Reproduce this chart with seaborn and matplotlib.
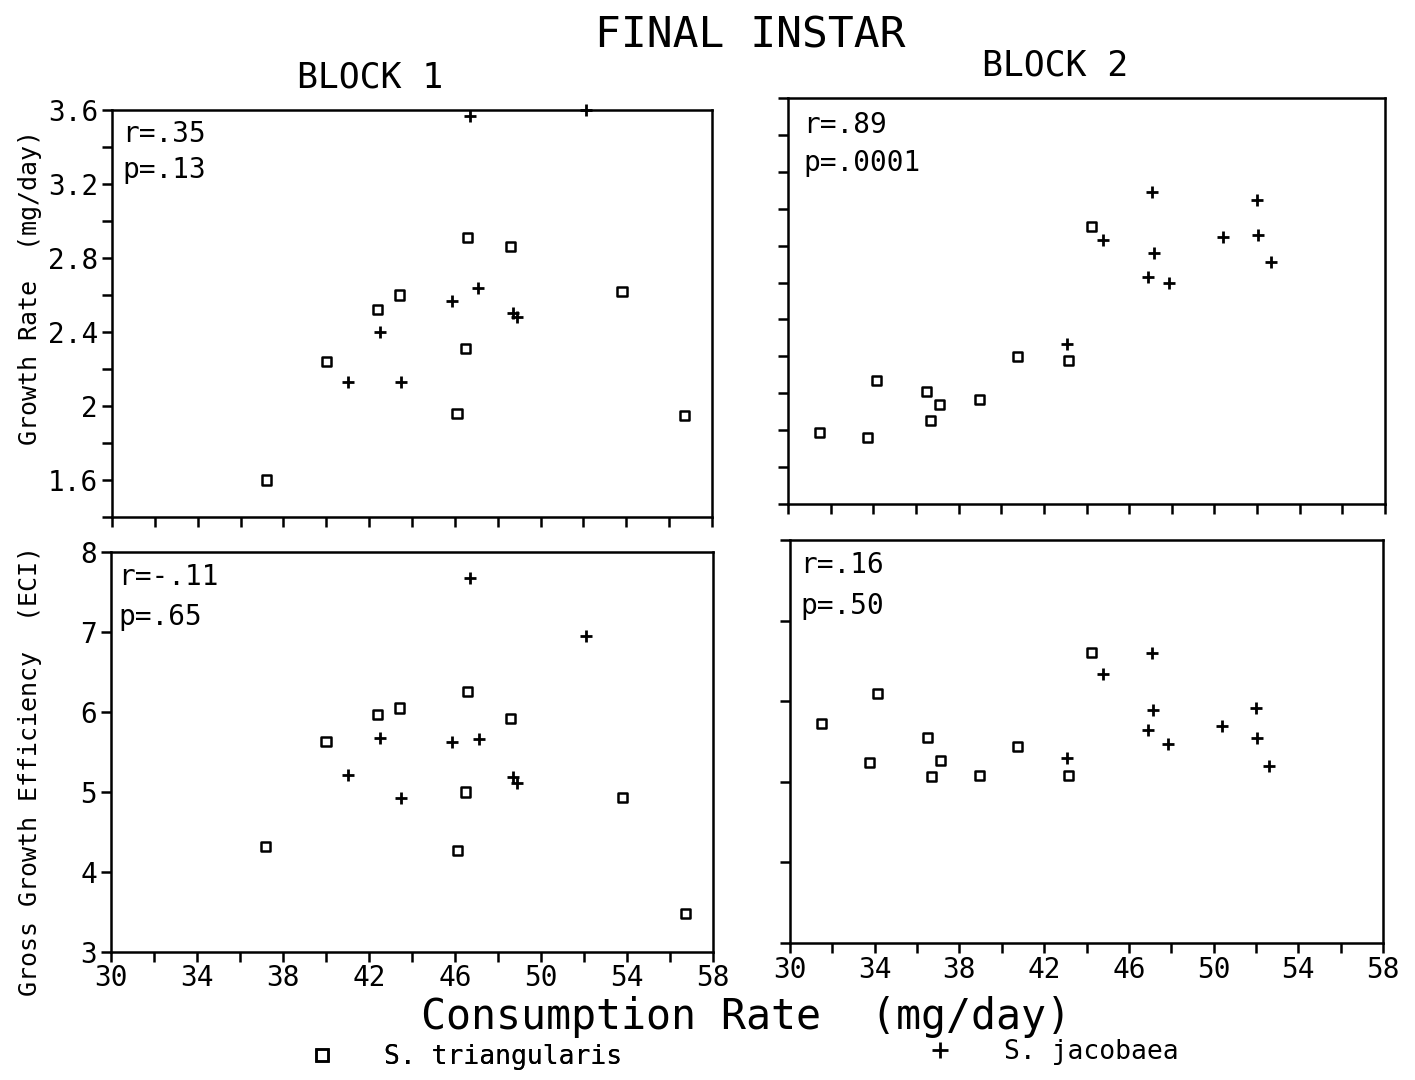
import numpy as np
import pandas as pd
import matplotlib
matplotlib.use("Agg")
import matplotlib.pyplot as plt
from matplotlib.lines import Line2D
import seaborn as sns

# ---------------- data ----------------
# Block 1, S. triangularis (squares)
b1_tri_cr = [37.2, 40.0, 42.4, 43.4, 46.6, 48.6, 53.8, 46.5, 46.1, 56.7]
b1_tri_gr = [1.60, 2.24, 2.52, 2.60, 2.91, 2.86, 2.62, 2.31, 1.96, 1.95]
b1_tri_eci = [4.32, 5.63, 5.97, 6.05, 6.26, 5.92, 4.93, 5.00, 4.27, 3.48]
# Block 1, S. jacobaea (plus)
b1_jac_cr = [46.7, 52.1, 47.1, 45.85, 48.7, 48.9, 42.5, 41.0, 43.5]
b1_jac_gr = [3.57, 3.60, 2.64, 2.57, 2.50, 2.48, 2.40, 2.13, 2.13]
b1_jac_eci = [7.67, 6.95, 5.66, 5.63, 5.19, 5.11, 5.67, 5.21, 4.92]
# Block 2, S. triangularis
b2_tri_cr = [31.5, 33.75, 34.15, 36.5, 37.1, 36.7, 38.97, 40.76, 43.15, 44.22]
b2_tri_gr = [1.79, 1.76, 2.07, 2.01, 1.94, 1.85, 1.965, 2.20, 2.18, 2.905]
b2_tri_eci = [5.72, 5.24, 6.09, 5.55, 5.26, 5.07, 5.08, 5.44, 5.08, 6.60]
# Block 2, S. jacobaea
b2_jac_cr = [47.07, 51.98, 44.78, 50.38, 52.04, 47.16, 46.9, 47.85, 52.63, 43.1]
b2_jac_gr = [3.09, 3.05, 2.83, 2.845, 2.86, 2.76, 2.63, 2.60, 2.71, 2.265]
b2_jac_eci = [6.60, 5.91, 6.34, 5.69, 5.54, 5.89, 5.645, 5.47, 5.19, 5.30]

stats_text = [["r=.35", "p=.13"], ["r=.89", "p=.0001"],
              ["r=-.11", "p=.65"], ["r=.16", "p=.50"]]

x_ticks = list(range(30, 59, 2))
x_ticklabels = [str(v) if (v - 30) % 4 == 0 else "" for v in x_ticks]
gr_ticks = [1.4, 1.6, 1.8, 2.0, 2.2, 2.4, 2.6, 2.8, 3.0, 3.2, 3.4, 3.6]
gr_ticklabels = ["", "1.6", "", "2", "", "2.4", "", "2.8", "", "3.2", "", "3.6"]
eci_ticks = [3, 4, 5, 6, 7, 8]
eci_ticklabels = ["3", "4", "5", "6", "7", "8"]

# ---------------- style ----------------
sns.set_theme(style="ticks")
plt.rcParams["font.family"] = ["DejaVu Sans Mono", "DejaVu Sans"]
plt.rcParams["axes.linewidth"] = 1.6
plt.rcParams["axes.edgecolor"] = "black"
plt.rcParams["text.color"] = "black"
plt.rcParams["axes.labelcolor"] = "black"
plt.rcParams["xtick.color"] = "black"
plt.rcParams["ytick.color"] = "black"

fig = plt.figure(figsize=(14.15, 10.8), dpi=100)
W, H = 1415, 1080

def rect(l, r, t, b):
    return [l / W, 1 - b / H, (r - l) / W, (b - t) / H]

ax_tl = fig.add_axes(rect(112, 712, 110, 517))
ax_tr = fig.add_axes(rect(788, 1385, 98, 504))
ax_bl = fig.add_axes(rect(111, 713, 552, 952))
ax_br = fig.add_axes(rect(790, 1383, 540, 943))

panels = [
    (ax_tl, b1_tri_cr, b1_tri_gr, b1_jac_cr, b1_jac_gr, "gr", (0.017, 0.94, 0.853)),
    (ax_tr, b2_tri_cr, b2_tri_gr, b2_jac_cr, b2_jac_gr, "gr", (0.025, 0.933, 0.84)),
    (ax_bl, b1_tri_cr, b1_tri_eci, b1_jac_cr, b1_jac_eci, "eci", (0.012, 0.9375, 0.8375)),
    (ax_br, b2_tri_cr, b2_tri_eci, b2_jac_cr, b2_jac_eci, "eci", (0.017, 0.938, 0.836)),
]

for i, (ax, tx, ty, jx, jy, kind, pos) in enumerate(panels):
    df_t = pd.DataFrame({"cr": tx, "val": ty})
    df_j = pd.DataFrame({"cr": jx, "val": jy})
    sns.scatterplot(data=df_t, x="cr", y="val", marker="s", s=42,
                    facecolor="none", edgecolor="black", linewidth=1.8,
                    color="black", ax=ax, zorder=3, clip_on=False)
    sns.scatterplot(data=df_j, x="cr", y="val", marker="+", s=70,
                    linewidth=2.0, color="black", ax=ax, zorder=3, clip_on=False)
    ax.set_xlabel("")
    ax.set_ylabel("")
    ax.set_xlim(30, 58)
    ax.set_xticks(x_ticks)
    ax.set_xticklabels(x_ticklabels)
    if kind == "gr":
        ax.set_ylim(1.4, 3.6)
        ax.set_yticks(gr_ticks)
        ax.set_yticklabels(gr_ticklabels)
    else:
        ax.set_ylim(3, 8)
        ax.set_yticks(eci_ticks)
        ax.set_yticklabels(eci_ticklabels)
    ax.tick_params(direction="out", length=7, width=1.8, color="black",
                   labelsize=20, labelcolor="black", pad=2)
    ax.tick_params(axis="y", pad=3)
    if i in (0, 1):
        ax.tick_params(labelbottom=False)
    if i in (1, 3):
        ax.tick_params(labelleft=False)
    for sp in ax.spines.values():
        sp.set_visible(True)
        sp.set_linewidth(1.8)
        sp.set_color("black")
    ax.set_facecolor("white")
    ax.text(pos[0], pos[1], stats_text[i][0], transform=ax.transAxes,
            fontsize=20, va="center", ha="left", color="black")
    ax.text(pos[0], pos[2], stats_text[i][1], transform=ax.transAxes,
            fontsize=20, va="center", ha="left", color="black")

# ---------------- figure texts ----------------
fig.text(750 / W, 1 - 35 / H, "FINAL INSTAR", fontsize=31, ha="center", va="center")
fig.text(370 / W, 1 - 77 / H, "BLOCK 1", fontsize=25, ha="center", va="center")
fig.text(1055 / W, 1 - 65 / H, "BLOCK 2", fontsize=25, ha="center", va="center")
fig.text(30 / W, 1 - 288 / H, "Growth Rate  (mg/day)", fontsize=18,
         rotation=90, ha="center", va="center")
fig.text(30 / W, 1 - 771 / H, "Gross Growth Efficiency  (ECI)", fontsize=18,
         rotation=90, ha="center", va="center")
fig.text(746 / W, 1 - 1017 / H, "Consumption Rate  (mg/day)", fontsize=30,
         ha="center", va="center")

# legends
h_sq = Line2D([], [], marker="s", linestyle="none", markersize=8,
              markerfacecolor="none", markeredgecolor="black", markeredgewidth=1.8)
h_pl = Line2D([], [], marker="+", linestyle="none", markersize=11,
              color="black", markeredgewidth=2.0)
leg1 = fig.legend(handles=[h_sq], labels=["S. triangularis"], loc="center left",
                  bbox_to_anchor=(309 / W, 1 - 1057 / H), frameon=False,
                  fontsize=19, borderpad=0, handlelength=1.0, handletextpad=1.85,
                  borderaxespad=0, labelcolor="black")
fig.add_artist(leg1)
fig.legend(handles=[h_pl], labels=["S. jacobaea"], loc="center left",
           bbox_to_anchor=(927 / W, 1 - 1052 / H), frameon=False,
           fontsize=19, borderpad=0, handlelength=1.0, handletextpad=1.9,
           borderaxespad=0, labelcolor="black")

fig.savefig("out.png", dpi=100, facecolor="white")
